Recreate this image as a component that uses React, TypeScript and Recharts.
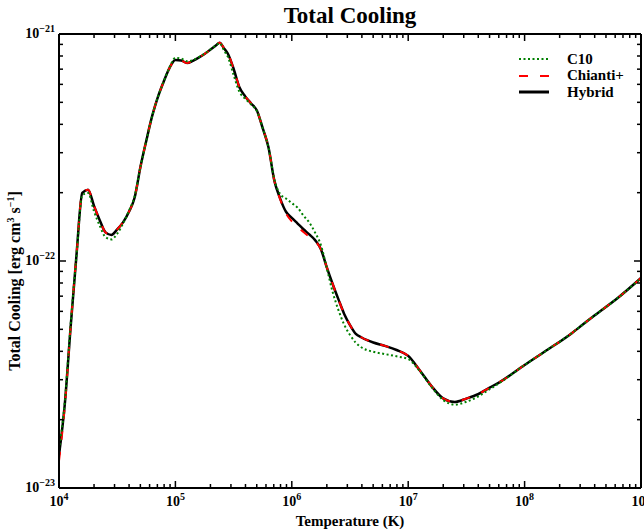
import { LineChart, Line, XAxis, YAxis, Legend } from 'recharts';

// log10 of temperature (K)
const LOG_T = [
  4.0, 4.05, 4.1, 4.15, 4.2, 4.25, 4.3, 4.35, 4.4, 4.45, 4.5, 4.55, 4.6, 4.65,
  4.7, 4.75, 4.8, 4.85, 4.9, 4.95, 5.0, 5.05, 5.1, 5.15, 5.2, 5.25, 5.3, 5.35,
  5.38, 5.42, 5.45, 5.5, 5.55, 5.6, 5.65, 5.7, 5.75, 5.8, 5.85, 5.9, 5.95, 6.0,
  6.05, 6.1, 6.15, 6.2, 6.25, 6.3, 6.35, 6.4, 6.45, 6.5, 6.55, 6.6, 6.7, 6.8,
  6.9, 7.0, 7.1, 7.2, 7.3, 7.4, 7.5, 7.6, 7.7, 7.8, 8.0, 8.2, 8.4, 8.5, 8.6,
  8.8, 9.0,
];

// log10 of total cooling [erg cm^3 s^-1]
const HYBRID = [
  -22.855, -22.63, -22.29, -21.975, -21.7, -21.686, -21.756, -21.82, -21.874,
  -21.885, -21.861, -21.83, -21.784, -21.72, -21.585, -21.47, -21.362, -21.277,
  -21.209, -21.149, -21.115, -21.117, -21.128, -21.118, -21.104, -21.088,
  -21.069, -21.05, -21.038, -21.065, -21.086, -21.153, -21.235, -21.275,
  -21.306, -21.337, -21.415, -21.5, -21.646, -21.725, -21.783, -21.81, -21.835,
  -21.86, -21.883, -21.908, -21.948, -22.027, -22.1, -22.168, -22.233, -22.282,
  -22.321, -22.337, -22.359, -22.374, -22.392, -22.418, -22.482, -22.551,
  -22.605, -22.621, -22.606, -22.587, -22.558, -22.529, -22.458, -22.39,
  -22.32, -22.28, -22.24, -22.163, -22.075,
];

const CHIANTI = [
  -22.88, -22.64, -22.29, -21.975, -21.7, -21.686, -21.756, -21.82, -21.874,
  -21.885, -21.861, -21.83, -21.784, -21.72, -21.585, -21.47, -21.362, -21.277,
  -21.209, -21.149, -21.115, -21.117, -21.128, -21.118, -21.104, -21.088,
  -21.069, -21.05, -21.038, -21.065, -21.086, -21.153, -21.235, -21.275,
  -21.306, -21.337, -21.415, -21.5, -21.646, -21.728, -21.79, -21.825, -21.85,
  -21.872, -21.893, -21.912, -21.948, -22.027, -22.1, -22.168, -22.233, -22.282,
  -22.321, -22.337, -22.359, -22.374, -22.392, -22.418, -22.482, -22.551,
  -22.605, -22.621, -22.606, -22.587, -22.558, -22.529, -22.458, -22.39,
  -22.32, -22.28, -22.24, -22.163, -22.075,
];

const C10 = [
  -22.83, -22.62, -22.28, -21.98, -21.71, -21.7, -21.78, -21.845, -21.895,
  -21.905, -21.88, -21.835, -21.78, -21.715, -21.585, -21.47, -21.362, -21.277,
  -21.209, -21.147, -21.105, -21.108, -21.12, -21.115, -21.102, -21.087,
  -21.068, -21.05, -21.04, -21.075, -21.1, -21.18, -21.255, -21.285, -21.31,
  -21.34, -21.415, -21.5, -21.64, -21.705, -21.725, -21.745, -21.765, -21.8,
  -21.83, -21.875, -21.93, -22.03, -22.135, -22.215, -22.28, -22.326, -22.36,
  -22.381, -22.4, -22.41, -22.42, -22.432, -22.485, -22.555, -22.612, -22.633,
  -22.62, -22.597, -22.565, -22.532, -22.458, -22.39, -22.32, -22.28, -22.24,
  -22.163, -22.075,
];

const X_MAJOR = [4, 5, 6, 7, 8, 9];
const Y_MAJOR = [-23, -22, -21];
const MINOR_STEPS = [2, 3, 4, 5, 6, 7, 8, 9];

const SERIF = "'Liberation Serif', 'Times New Roman', serif";

const data = LOG_T.map((t, i) => ({
  t,
  hybrid: HYBRID[i],
  chianti: CHIANTI[i],
  c10: C10[i],
}));

const withMinor = (major: number[]) => [
  ...major,
  ...major.slice(0, -1).flatMap((d) => MINOR_STEPS.map((k) => d + Math.log10(k))),
];
const xTicks = withMinor(X_MAJOR);
const yTicks = withMinor(Y_MAJOR);

const isMajor = (v: number) => Math.abs(v - Math.round(v)) < 1e-6;
const fmtExp = (v: number) => String(Math.round(v)).replace('-', '\u2212');

const MAJOR_LEN = 7;
const MINOR_LEN = 4;

function BottomTick({ x, y, payload }: any) {
  const major = isMajor(payload.value);
  return (
    <g>
      <line x1={x} x2={x} y1={y} y2={y - (major ? MAJOR_LEN : MINOR_LEN)} stroke="#000" strokeWidth={1.5} />
      {major && (
        <text x={x} y={y + 18} textAnchor="middle" fontFamily={SERIF} fontWeight="bold" fontSize={14} fill="#000">
          10<tspan dy={-6} fontSize={10}>{fmtExp(payload.value)}</tspan>
        </text>
      )}
    </g>
  );
}

function TopTick({ x, y, payload }: any) {
  const major = isMajor(payload.value);
  return <line x1={x} x2={x} y1={y} y2={y + (major ? MAJOR_LEN : MINOR_LEN)} stroke="#000" strokeWidth={1.5} />;
}

function LeftTick({ x, y, payload }: any) {
  const major = isMajor(payload.value);
  return (
    <g>
      <line x1={x} x2={x + (major ? MAJOR_LEN : MINOR_LEN)} y1={y} y2={y} stroke="#000" strokeWidth={1.5} />
      {major && (
        <text x={x - 4} y={y + 4} textAnchor="end" fontFamily={SERIF} fontWeight="bold" fontSize={14} fill="#000">
          10<tspan dy={-6} fontSize={10}>{fmtExp(payload.value)}</tspan>
        </text>
      )}
    </g>
  );
}

function RightTick({ x, y, payload }: any) {
  const major = isMajor(payload.value);
  return <line x1={x} x2={x - (major ? MAJOR_LEN : MINOR_LEN)} y1={y} y2={y} stroke="#000" strokeWidth={1.5} />;
}

function XTitle() {
  return (
    <text x={350} y={526} textAnchor="middle" fontFamily={SERIF} fontWeight="bold" fontSize={15} fill="#000">
      Temperature (K)
    </text>
  );
}

function YTitle() {
  return (
    <text transform="translate(20,281) rotate(-90)" textAnchor="middle" fontFamily={SERIF} fontWeight="bold" fontSize={16} fill="#000">
      Total Cooling [erg cm<tspan dy={-6} fontSize={10}>3</tspan>
      <tspan dy={6}> s</tspan>
      <tspan dy={-6} fontSize={10}>{'\u22121'}</tspan>
      <tspan dy={6}>]</tspan>
    </text>
  );
}

const LEGEND_ITEMS = [
  { name: 'C10', color: '#008000', dash: '2 2.5', width: 2 },
  { name: 'Chianti+', color: '#ff0000', dash: '9 12', width: 2 },
  { name: 'Hybrid', color: '#000000', dash: undefined, width: 3 },
];

function LegendBox() {
  return (
    <div style={{ fontFamily: SERIF, fontWeight: 'bold', fontSize: 15, color: '#000' }}>
      {LEGEND_ITEMS.map((item) => (
        <div key={item.name} style={{ display: 'flex', alignItems: 'center', height: 16.5 }}>
          <svg width={30} height={8} style={{ marginRight: 18 }}>
            <line x1={0} x2={30} y1={4} y2={4} stroke={item.color} strokeWidth={item.width} strokeDasharray={item.dash} />
          </svg>
          <span>{item.name}</span>
        </div>
      ))}
    </div>
  );
}

const frame = { stroke: '#000', strokeWidth: 2 };

export default function App() {
  return (
    <div style={{ position: 'absolute', left: 0, top: 0, width: 644, height: 531, background: '#fff' }}>
      <div
        style={{
          position: 'absolute',
          left: 59,
          top: 2,
          width: 582,
          textAlign: 'center',
          fontFamily: SERIF,
          fontWeight: 'bold',
          fontSize: 23,
          lineHeight: '28px',
        }}
      >
        Total Cooling
      </div>
      <LineChart width={644} height={531} data={data} margin={{ top: 0, right: 0, bottom: 0, left: 0 }}>
        <XAxis
          xAxisId="b"
          dataKey="t"
          type="number"
          domain={[4, 9]}
          allowDataOverflow
          ticks={xTicks}
          interval={0}
          tickSize={0}
          tickMargin={0}
          tickLine={false}
          axisLine={frame}
          height={43}
          tick={(p: any) => <BottomTick {...p} />}
          label={<XTitle />}
        />
        <XAxis
          xAxisId="t"
          orientation="top"
          dataKey="t"
          type="number"
          domain={[4, 9]}
          allowDataOverflow
          ticks={xTicks}
          interval={0}
          tickSize={0}
          tickMargin={0}
          tickLine={false}
          axisLine={frame}
          height={34}
          tick={(p: any) => <TopTick {...p} />}
        />
        <YAxis
          yAxisId="l"
          type="number"
          domain={[-23, -21]}
          allowDataOverflow
          ticks={yTicks}
          interval={0}
          tickSize={0}
          tickMargin={0}
          tickLine={false}
          axisLine={frame}
          width={59}
          tick={(p: any) => <LeftTick {...p} />}
          label={<YTitle />}
        />
        <YAxis
          yAxisId="r"
          orientation="right"
          type="number"
          domain={[-23, -21]}
          allowDataOverflow
          ticks={yTicks}
          interval={0}
          tickSize={0}
          tickMargin={0}
          tickLine={false}
          axisLine={frame}
          width={3}
          tick={(p: any) => <RightTick {...p} />}
        />
        <Line
          xAxisId="b"
          yAxisId="l"
          type="monotone"
          dataKey="hybrid"
          stroke="#000"
          strokeWidth={2.5}
          dot={false}
          activeDot={false}
          isAnimationActive={false}
        />
        <Line
          xAxisId="b"
          yAxisId="l"
          type="monotone"
          dataKey="chianti"
          stroke="#ff0000"
          strokeWidth={2}
          strokeDasharray="9 12"
          dot={false}
          activeDot={false}
          isAnimationActive={false}
        />
        <Line
          xAxisId="b"
          yAxisId="l"
          type="monotone"
          dataKey="c10"
          stroke="#008000"
          strokeWidth={2}
          strokeDasharray="2 2.5"
          dot={false}
          activeDot={false}
          isAnimationActive={false}
        />
        <Legend
          layout="vertical"
          align="center"
          verticalAlign="middle"
          wrapperStyle={{ left: 519, top: 51, width: 120 }}
          content={() => <LegendBox />}
        />
      </LineChart>
    </div>
  );
}
